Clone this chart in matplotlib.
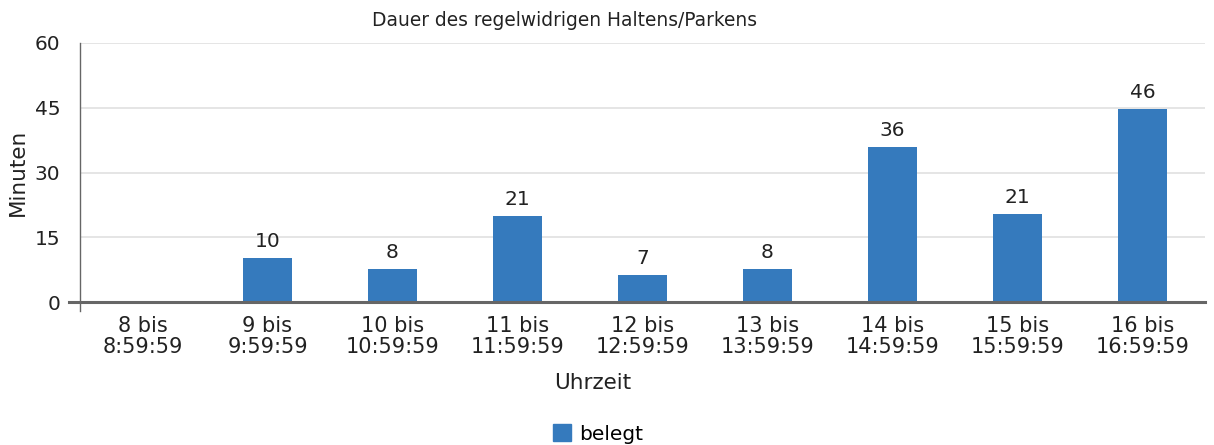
import matplotlib
matplotlib.use("Agg")
import matplotlib.pyplot as plt
from matplotlib.patches import Patch

plt.rcParams['font.family'] = ['DejaVu Sans']

kategorien = ["8 bis\n8:59:59", "9 bis\n9:59:59", "10 bis\n10:59:59", "11 bis\n11:59:59",
              "12 bis\n12:59:59", "13 bis\n13:59:59", "14 bis\n14:59:59", "15 bis\n15:59:59",
              "16 bis\n16:59:59"]
# Balkenhöhen wie im Bild, Beschriftungen wie im Original
werte = [0, 10.3, 7.7, 20.0, 6.3, 7.7, 36.0, 20.4, 44.8]
beschriftung = ["", "10", "8", "21", "7", "8", "36", "21", "46"]
y_ticks = [0, 15, 30, 45, 60]

farbe = "#357abd"

fig = plt.figure(figsize=(12.14, 4.45), dpi=100)
ax = fig.add_axes([80 / 1214, 1 - 302 / 445, 1125 / 1214, 259 / 445])

x = list(range(len(kategorien)))
bars = ax.bar(x, werte, width=0.39, color=farbe, zorder=3)
for b, txt in zip(bars, beschriftung):
    if txt:
        ax.text(b.get_x() + b.get_width() / 2, b.get_height() + 1.6, txt,
                ha="center", va="bottom", fontsize=14.5, color="#222222")

ax.set_xlim(-0.5, len(kategorien) - 0.5)
ax.set_ylim(0, 60)
ax.set_yticks(y_ticks)
ax.set_xticks(x)
ax.set_xticklabels(kategorien, fontsize=15, color="#222222", linespacing=1.05)
ax.tick_params(axis="y", labelsize=14.5, colors="#222222", length=0, pad=14)
ax.tick_params(axis="x", length=0, pad=10)

ax.grid(axis="y", color="#e0e0e0", linewidth=1.2, zorder=0)
for s in ["top", "right"]:
    ax.spines[s].set_visible(False)
ax.spines["left"].set_color("#666666")
ax.spines["left"].set_linewidth(1.0)
ax.spines["left"].set_bounds(-2, 60)
ax.spines["bottom"].set_visible(False)
ax.axhline(0, xmin=-0.01, xmax=1, color="#666666", linewidth=2.2, zorder=4, clip_on=False)

ax.set_ylabel("Minuten", fontsize=15.5, color="#222222", labelpad=5)
ax.set_xlabel("Uhrzeit", fontsize=15.5, color="#222222")
ax.xaxis.set_label_coords((593 - 80) / 1125, -(383 - 302) / 259)
ax.xaxis.label.set_va("center")

fig.text(565 / 1214, 1 - 20 / 445, "Dauer des regelwidrigen Haltens/Parkens",
         ha="center", va="center", fontsize=13.4, color="#222222")

fig.legend(handles=[Patch(color=farbe, label="belegt")], loc="center",
           bbox_to_anchor=(598 / 1214, 1 - 434 / 445), frameon=False, fontsize=14.5,
           handlelength=0.9, handleheight=0.9, handletextpad=0.4)

fig.savefig("out.png", dpi=100)
